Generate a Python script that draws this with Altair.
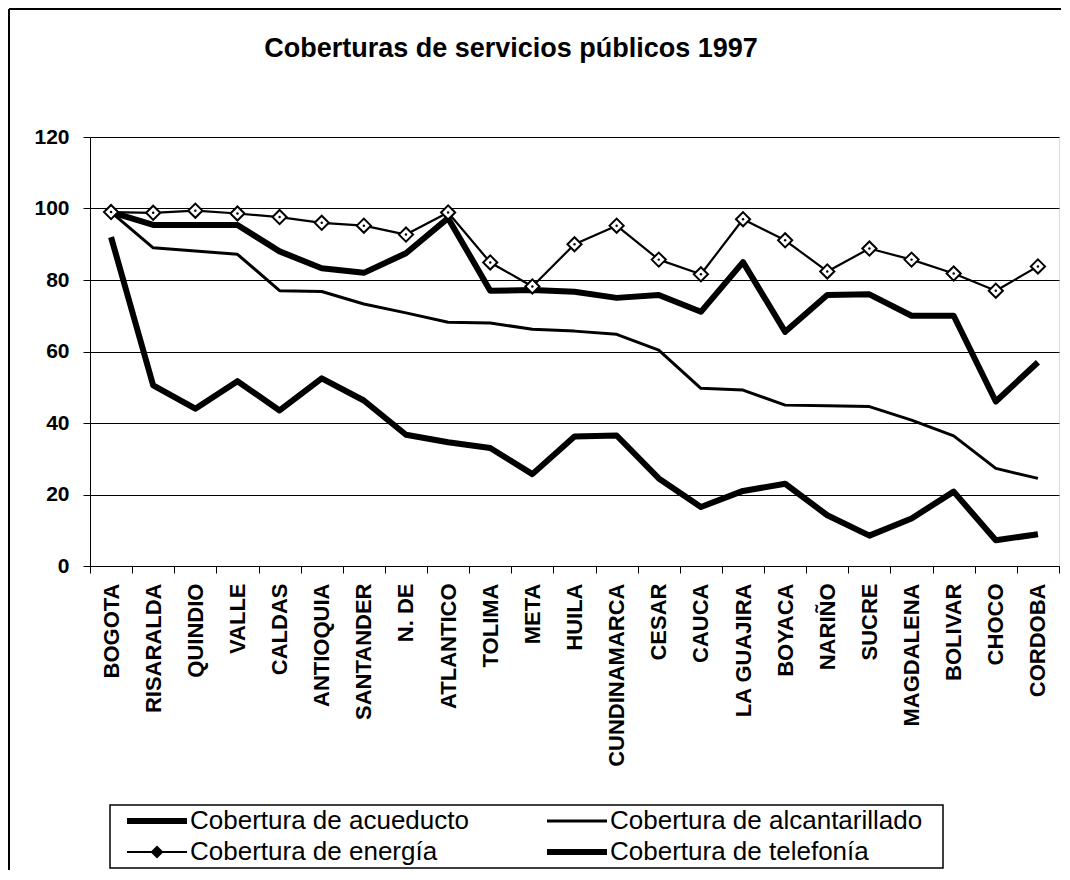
import altair as alt
import pandas as pd

TITLE = "Coberturas de servicios públicos 1997"

CATEGORIES = ["BOGOTA", "RISARALDA", "QUINDIO", "VALLE", "CALDAS", "ANTIOQUIA",
              "SANTANDER", "N. DE", "ATLANTICO", "TOLIMA", "META", "HUILA",
              "CUNDINAMARCA", "CESAR", "CAUCA", "LA GUAJIRA", "BOYACA", "NARIÑO",
              "SUCRE", "MAGDALENA", "BOLIVAR", "CHOCO", "CORDOBA"]

SERIES = ["Cobertura de acueducto", "Cobertura de alcantarillado",
          "Cobertura de energía", "Cobertura de telefonía"]

ACUEDUCTO = [99, 95.4, 95.4, 95.4, 88, 83.3, 82, 87.5, 97.3, 77, 77.2, 76.7,
             75, 75.8, 71.1, 85, 65.5, 75.8, 76, 70, 70, 46, 57]
ALCANTARILLADO = [99, 89, 88.1, 87.2, 77, 76.8, 73.3, 70.8, 68.2, 68, 66.2, 65.7,
                  64.8, 60.4, 49.7, 49.2, 45, 44.8, 44.6, 40.8, 36.4, 27.3, 24.5]
ENERGIA = [99, 98.8, 99.4, 98.6, 97.6, 96, 95.2, 92.7, 98.9, 84.9, 78.2, 90,
           95.2, 85.7, 81.6, 97, 91.1, 82.4, 88.8, 85.7, 81.8, 77, 83.8]
TELEFONIA = [92, 50.5, 44, 51.7, 43.5, 52.5, 46.3, 36.7, 34.6, 33, 25.7, 36.2,
             36.5, 24.5, 16.5, 21, 23, 14.2, 8.5, 13.3, 20.8, 7.2, 8.9]

Y_TICKS = [0, 20, 40, 60, 80, 100, 120]

rows = []
for s, vals in zip(SERIES, [ACUEDUCTO, ALCANTARILLADO, ENERGIA, TELEFONIA]):
    for c, v in zip(CATEGORIES, vals):
        rows.append({"region": c, "serie": s, "valor": v})
df = pd.DataFrame(rows)

FONT = "Liberation Sans"
W, H = 969, 429
LINE_WIDTH = {SERIES[0]: 6, SERIES[1]: 3, SERIES[2]: 2.2, SERIES[3]: 6}

x_enc = alt.X("region:N", sort=CATEGORIES,
              scale=alt.Scale(paddingInner=0, paddingOuter=0),
              axis=alt.Axis(title=None, labelAngle=-90, labelFont=FONT,
                            labelFontWeight="bold", labelFontSize=22,
                            labelColor="black", labelPadding=10, labelLimit=400,
                            tickBand="extent", tickSize=7, tickColor="black",
                            domainColor="black", grid=False, labelOverlap=False))
y_enc = alt.Y("valor:Q", scale=alt.Scale(domain=[0, 120], nice=False),
              axis=alt.Axis(title=None, values=Y_TICKS, labelFont=FONT,
                            labelFontWeight="bold", labelFontSize=21,
                            labelColor="black", labelPadding=14, tickSize=7,
                            tickColor="black", domainColor="black",
                            grid=True, gridColor="black", gridWidth=1))

base = alt.Chart(df).encode(x=x_enc, y=y_enc)

line_layers = [
    base.transform_filter(alt.datum.serie == s).mark_line(
        color="black", strokeWidth=LINE_WIDTH[s], strokeJoin="round")
    for s in [SERIES[1], SERIES[3], SERIES[0], SERIES[2]]
]

energy = base.transform_filter(alt.datum.serie == SERIES[2])
diamonds = energy.mark_point(shape="diamond", filled=True, fill="white",
                             stroke="black", strokeWidth=2, size=200, opacity=1)
dots = energy.mark_point(shape="circle", filled=True, color="black", size=6, opacity=1)

# ---- legend (drawn box, entries from SERIES) ----
leg_df = pd.DataFrame({"serie": SERIES})
leg_df["col"] = [i % 2 for i in range(len(SERIES))]
leg_df["row"] = [i // 2 for i in range(len(SERIES))]

leg_base = alt.Chart(leg_df).transform_calculate(
    lx1="37 + datum.col * 420",
    lx2="datum.lx1 + 60",
    lm="datum.lx1 + 30",
    lt="datum.lx1 + 63",
    ly="684 + datum.row * 31",
)
leg_lines = [
    leg_base.transform_filter(alt.datum.serie == s).mark_rule(
        color="black", strokeWidth=LINE_WIDTH[s]).encode(
        x=alt.X("lx1:Q", scale=None, axis=None),
        x2="lx2:Q",
        y=alt.Y("ly:Q", scale=None, axis=None),
    )
    for s in SERIES
]
leg_text = leg_base.mark_text(align="left", baseline="middle", font=FONT,
                              fontSize=26, color="black").encode(
    x=alt.X("lt:Q", scale=None, axis=None),
    y=alt.Y("ly:Q", scale=None, axis=None),
    text="serie:N",
)
leg_diamond = leg_base.transform_filter(alt.datum.serie == SERIES[2]).mark_point(
    shape="diamond", filled=True, color="black", size=170, opacity=1).encode(
    x=alt.X("lm:Q", scale=None, axis=None),
    y=alt.Y("ly:Q", scale=None, axis=None),
)

one = pd.DataFrame({"k": [0]})
title_mark = alt.Chart(one).mark_text(
    text=TITLE, font=FONT, fontSize=27, fontWeight="bold", color="black",
    align="center", baseline="alphabetic").encode(
    x=alt.value(421), y=alt.value(-80))
leg_box = alt.Chart(one).mark_rect(fill="white", fillOpacity=0, stroke="black",
                                   strokeWidth=1.5).encode(
    x=alt.value(20), x2=alt.value(853), y=alt.value(668), y2=alt.value(731))
frame_left = alt.Chart(one).mark_rule(color="black", strokeWidth=2).encode(
    x=alt.value(-81), y=alt.value(-128), y2=alt.value(733))
frame_top = alt.Chart(one).mark_rule(color="black", strokeWidth=2).encode(
    x=alt.value(-81), x2=alt.value(971), y=alt.value(-128))

chart = alt.layer(
    *line_layers, diamonds, dots, leg_box, *leg_lines, leg_diamond, leg_text,
    title_mark, frame_left, frame_top,
).properties(
    width=W, height=H,
    autosize=alt.AutoSizeParams(type="none"),
    padding={"left": 82, "top": 129, "right": 3, "bottom": 304},
).configure_view(stroke="black", strokeWidth=1).configure(background="white")

chart.save("out.html", embed_options={"renderer": "svg", "actions": False})
